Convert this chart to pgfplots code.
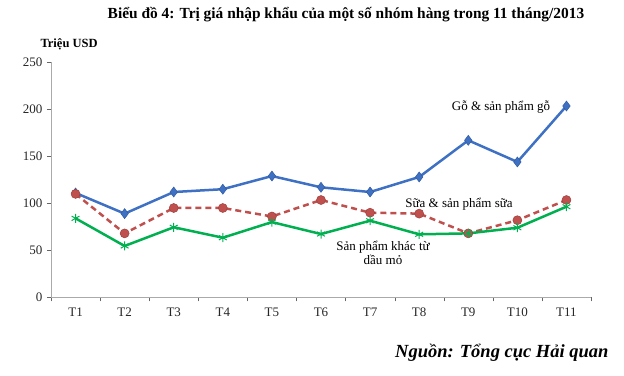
\documentclass[border=0pt]{standalone}
\usepackage{pgfplots}
\pgfplotsset{compat=1.18}
\usepackage{fontspec}
\setmainfont{Liberation Serif}
\definecolor{cblue}{RGB}{62,112,196}
\definecolor{cred}{RGB}{192,80,77}
\definecolor{cgreen}{RGB}{0,176,80}
\definecolor{cgray}{RGB}{170,170,170}
\begin{document}
\begin{tikzpicture}[x=1pt,y=1pt]
\path[use as bounding box] (0,0) rectangle (624,375);
\begin{axis}[
  at={(51pt,77.7pt)}, anchor=south west,
  scale only axis, width=540pt, height=235pt,
  xmin=-0.5, xmax=10.5, ymin=0, ymax=250,
  axis x line*=bottom, axis y line*=left,
  axis line style={cgray},
  xtick={0,...,10},
  xticklabels={T1,T2,T3,T4,T5,T6,T7,T8,T9,T10,T11},
  minor xtick={-0.5,0.5,...,10.5},
  ytick={0,50,...,250},
  tick align=outside,
  major tick length=4pt, minor tick length=4pt,
  xtick style={draw=none},
  minor x tick style={draw=black!60},
  ytick style={draw=black!60},
  tick label style={font=\fontsize{13}{13}\selectfont, text=black!85},
  /pgf/number format/assume math mode=true,
  xticklabel style={yshift=-3pt},
  yticklabel style={xshift=-1pt},
  clip=false,
]
\addplot[cblue, line width=2.5pt, mark=diamond*, mark size=5pt, mark options={fill=cblue, draw=cblue!80!black, line width=0.5pt}]
coordinates {(0,111)(1,89)(2,112)(3,115)(4,129)(5,117)(6,112)(7,128)(8,167)(9,144)(10,203.5)};
\addplot[cred, line width=2.5pt, dash pattern=on 6pt off 4pt, mark=*, mark size=4.5pt, mark options={solid, fill=cred, draw=cred!80!black, line width=0.5pt}]
coordinates {(0,110)(1,68)(2,95)(3,95)(4,86)(5,103.5)(6,90)(7,89)(8,68)(9,82)(10,103.5)};
\addplot[cgreen, line width=2.5pt, mark=asterisk, mark size=4.5pt, mark options={solid, line width=1pt}]
coordinates {(0,84)(1,54.6)(2,74.5)(3,63.4)(4,80)(5,67.3)(6,81.5)(7,67)(8,68)(9,74)(10,96.4)};
\end{axis}
\node[font=\bfseries\fontsize{15.4}{15}\selectfont] at (346,360) {Biểu đồ 4: Trị giá nhập khẩu của một số nhóm hàng trong 11 tháng/2013};
\node[font=\bfseries\fontsize{12.5}{12}\selectfont, anchor=west] at (37,331) {Triệu USD};
\node[font=\fontsize{13}{13}\selectfont] at (501,268) {Gỗ \& sản phẩm gỗ};
\node[font=\fontsize{13}{13}\selectfont] at (459,171) {Sữa \& sản phẩm sữa};
\node[font=\fontsize{13}{14}\selectfont, align=center] at (383,122.5) {Sản phẩm khác từ\\dầu mỏ};
\node[font=\bfseries\itshape\fontsize{18.5}{18}\selectfont, anchor=east] at (612,22) {Nguồn: Tổng cục Hải quan};
\end{tikzpicture}
\end{document}
